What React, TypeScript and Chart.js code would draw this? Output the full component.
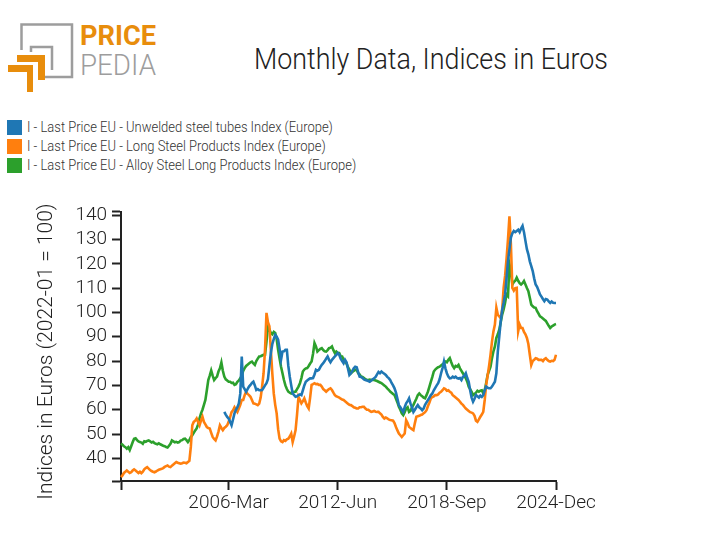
import React, { useEffect, useRef } from 'react';
import { Chart, registerables } from 'chart.js';

Chart.register(...registerables);

// ---------- categories ----------
const START_YEAR = 2000;
const END_YEAR = 2024;
const months: string[] = [];
for (let y = START_YEAR; y <= END_YEAR; y++) {
  for (let m = 1; m <= 12; m++) months.push(`${y}-${m < 10 ? '0' + m : m}`);
}

const xTickMonths = ['2000-01', '2006-03', '2012-06', '2018-09', '2024-12'];
const xTickLabels = ['', '2006-Mar', '2012-Jun', '2018-Sep', '2024-Dec'];

const yTicks = [40, 50, 60, 70, 80, 90, 100, 110, 120, 130, 140];
const yMin = 30.7;
const yMax = 141.4;

// ---------- series values (monthly, 2000-01 .. 2024-12) ----------
const unweldedTubes: (number | null)[] = [
  ...Array(71).fill(null),
  59.1,
  58.0, 57.0, 56.4, 55.0, 53.6, 56.0, 58.5, 60.0, 61.0, 62.6, 66.7, 81.9,
  69.5, 68.5, 67.4, 68.5, 69.5, 70.2, 71.0, 71.5, 70.0, 68.1, 68.5, 68.0,
  68.0, 68.1, 69.0, 70.0, 70.9, 72.5, 78.0, 83.3, 87.0, 89.0, 90.8, 90.0,
  88.8, 85.0, 80.5, 83.9, 84.0, 84.6, 84.6, 78.0, 73.6, 70.0, 66.7, 66.0,
  65.3, 65.5, 66.0, 66.3, 66.0, 68.0, 70.0, 71.5, 72.0, 72.5, 72.9, 72.9,
  73.0, 74.5, 76.4, 76.0, 76.4, 77.5, 78.5, 79.1, 80.0, 81.0, 81.9, 80.5,
  79.5, 80.5, 81.2, 81.9, 82.5, 83.3, 82.6, 81.0, 80.0, 79.1, 80.5, 79.5,
  77.0, 74.3, 75.0, 76.0, 77.0, 77.7, 77.5, 75.5, 73.6, 73.5, 73.0, 72.5,
  72.2, 72.0, 71.8, 71.5, 72.0, 72.5, 72.9, 73.5, 74.5, 75.5, 75.0, 75.7,
  75.2, 74.8, 74.3, 73.5, 73.0, 72.2, 71.0, 70.0, 68.8, 67.0, 64.5, 61.9,
  61.0, 60.0, 59.1, 61.0, 62.6, 63.5, 64.7, 62.5, 61.0, 59.1, 60.0, 61.0,
  61.9, 61.0, 60.5, 59.8, 60.5, 62.0, 63.0, 64.0, 65.0, 66.0, 66.7, 68.0,
  69.0, 70.0, 70.9, 72.5, 75.0, 77.1, 79.8, 77.0, 75.0, 73.6, 72.9, 73.0,
  73.6, 73.2, 73.6, 73.0, 72.8, 73.0, 72.2, 73.5, 74.0, 75.0, 73.0, 71.5,
  68.0, 65.0, 63.3, 64.5, 66.0, 65.5, 65.0, 65.8, 65.3, 66.0, 68.0, 69.5,
  69.0, 68.8, 68.8, 69.5, 70.5, 71.5, 75.0, 83.9, 90.0, 96.3, 101.0, 104.0,
  107.4, 114.0, 121.1, 126.0, 130.8, 132.5, 133.5, 133.0, 133.5, 134.0, 133.0, 134.5,
  135.6, 133.0, 129.4, 126.0, 123.9, 121.0, 119.0, 117.0, 114.0, 111.5, 110.5, 109.0,
  107.4, 106.5, 105.5, 104.6, 105.5, 105.3, 104.5, 103.9, 104.5, 104.0, 103.9, 103.9,
];

const longSteel: number[] = [
  32.3, 33.0, 34.0, 34.5, 35.0, 34.5, 34.0, 34.3, 35.0, 35.5, 35.0, 34.5,
  34.0, 34.5, 33.9, 34.5, 35.5, 36.0, 36.4, 35.8, 35.2, 34.8, 34.5, 34.3,
  34.6, 35.0, 35.3, 35.5, 35.7, 36.0, 36.5, 36.8, 37.1, 36.6, 36.4, 37.0,
  37.5, 38.0, 38.5, 38.2, 38.0, 37.8, 38.0, 38.3, 38.2, 38.0, 38.5, 39.0,
  44.7, 53.6, 55.0, 55.5, 56.4, 55.0, 53.6, 55.5, 57.1, 55.0, 54.0, 52.9,
  52.5, 52.3, 50.5, 48.8, 48.0, 47.4, 49.0, 51.0, 53.6, 52.5, 51.6, 52.5,
  53.0, 53.6, 55.0, 57.0, 59.0, 59.8, 61.0, 60.0, 59.1, 60.5, 62.0, 64.0,
  64.0, 66.0, 67.4, 66.5, 66.0, 65.3, 64.0, 62.6, 62.5, 62.2, 61.9, 62.5,
  65.0, 69.5, 75.0, 84.6, 99.8, 96.0, 94.3, 84.6, 75.0, 66.7, 62.0, 58.5,
  52.0, 48.1, 47.0, 46.7, 47.5, 47.2, 47.8, 48.1, 49.0, 50.2, 46.7, 49.0,
  51.6, 58.0, 65.3, 64.0, 62.6, 63.5, 64.7, 63.0, 61.5, 60.5, 65.0, 70.2,
  70.5, 70.9, 70.5, 70.6, 70.2, 70.2, 69.5, 68.5, 68.0, 67.4, 68.0, 68.5,
  68.8, 68.1, 67.0, 66.0, 65.5, 65.3, 65.0, 64.5, 64.2, 64.0, 63.5, 63.0,
  62.5, 62.0, 61.9, 61.5, 61.0, 60.8, 60.5, 60.5, 61.0, 61.0, 61.2, 61.2,
  60.5, 60.0, 60.0, 59.5, 59.1, 59.3, 59.5, 59.2, 59.1, 59.1, 58.5, 58.0,
  57.0, 56.4, 56.8, 56.5, 56.0, 55.8, 55.7, 55.5, 54.5, 52.9, 51.5, 50.2,
  49.5, 48.8, 49.5, 50.2, 55.7, 54.5, 52.9, 52.5, 52.0, 51.6, 54.5, 57.1,
  57.3, 57.5, 57.8, 58.0, 58.5, 59.0, 59.8, 61.5, 63.0, 64.7, 65.2, 65.5,
  66.0, 66.0, 66.3, 67.0, 67.4, 68.0, 68.8, 68.5, 67.8, 68.0, 67.4, 67.0,
  66.0, 65.5, 65.0, 64.5, 64.0, 63.3, 62.5, 62.0, 61.2, 60.5, 60.0, 59.5,
  59.0, 58.8, 58.5, 57.5, 55.5, 55.0, 56.0, 57.1, 58.0, 59.1, 64.0, 70.2,
  74.0, 78.0, 82.6, 88.0, 92.2, 95.0, 101.9, 99.0, 98.4, 97.7, 101.0, 110.1,
  115.0, 122.0, 130.0, 139.5, 128.0, 110.1, 109.0, 110.0, 110.1, 92.2, 95.0, 93.6,
  93.6, 92.0, 91.0, 89.5, 87.0, 82.6, 78.4, 80.0, 80.5, 81.2, 81.0, 80.5,
  80.5, 80.5, 80.0, 80.8, 81.2, 80.5, 80.0, 79.8, 80.1, 80.0, 80.5, 82.6,
];

const alloyLong: number[] = [
  46.1, 45.6, 45.0, 44.6, 44.0, 44.6, 43.4, 45.0, 46.6, 48.1, 48.3, 47.5,
  47.0, 46.7, 46.5, 46.0, 47.0, 46.8, 47.2, 47.4, 47.0, 46.5, 46.8, 46.3,
  46.0, 45.8, 46.2, 45.8, 45.5, 45.2, 45.0, 44.7, 44.5, 45.2, 46.0, 47.4,
  47.0, 46.6, 46.8, 46.5, 46.7, 47.3, 47.5, 48.0, 48.1, 47.5, 46.7, 47.5,
  48.8, 49.5, 50.5, 51.5, 52.3, 54.0, 56.5, 58.5, 60.0, 62.0, 64.0, 68.0,
  72.2, 74.0, 76.1, 74.0, 72.2, 73.0, 73.6, 75.7, 77.0, 79.4, 76.0, 73.6,
  72.5, 72.0, 71.5, 71.5, 71.0, 71.1, 70.2, 70.5, 71.5, 72.0, 72.9, 74.0,
  76.0, 77.1, 78.0, 78.5, 79.0, 79.5, 79.8, 79.0, 78.4, 80.0, 81.0, 81.9,
  82.0, 82.3, 82.6, 82.6, 88.0, 94.3, 93.0, 91.5, 91.0, 92.0, 91.5, 89.0,
  84.6, 81.0, 77.7, 75.0, 72.2, 70.0, 68.5, 67.4, 67.0, 66.7, 67.0, 67.4,
  67.4, 68.5, 69.5, 70.9, 73.0, 75.7, 76.5, 77.0, 77.1, 78.0, 79.0, 79.8,
  83.0, 87.4, 86.0, 83.9, 84.5, 85.0, 85.3, 84.5, 84.0, 83.9, 84.5, 85.3,
  85.5, 86.0, 84.5, 83.3, 83.9, 83.3, 83.3, 82.0, 81.9, 80.5, 79.8, 79.0,
  77.5, 76.5, 75.0, 75.5, 76.0, 76.4, 76.4, 75.0, 74.5, 73.6, 73.5, 73.0,
  72.5, 72.3, 72.2, 72.4, 72.2, 72.3, 72.2, 72.0, 71.8, 71.5, 71.2, 70.9,
  70.5, 70.0, 69.5, 68.8, 68.2, 67.5, 67.0, 66.5, 66.0, 64.5, 63.0, 61.2,
  60.0, 58.5, 57.8, 59.0, 60.5, 61.0, 59.1, 59.5, 61.0, 62.0, 63.3, 64.5,
  66.0, 66.7, 66.0, 65.5, 65.0, 64.7, 66.0, 67.5, 69.5, 71.5, 73.5, 75.7,
  76.5, 77.0, 77.5, 77.7, 78.2, 78.7, 79.1, 79.8, 79.5, 80.5, 81.2, 79.5,
  78.0, 77.1, 78.0, 77.7, 78.4, 77.0, 76.0, 75.0, 74.0, 72.9, 71.5, 69.5,
  68.5, 67.4, 66.0, 66.5, 67.0, 67.8, 67.4, 67.8, 68.0, 66.7, 68.0, 71.0,
  74.3, 76.0, 77.7, 81.2, 84.0, 86.0, 89.5, 91.0, 92.9, 96.0, 99.1, 101.2,
  104.0, 107.4, 106.7, 119.8, 117.0, 111.5, 112.5, 113.0, 114.3, 113.0, 112.0, 111.5,
  112.0, 112.9, 111.5, 110.0, 108.7, 106.0, 103.2, 102.5, 102.0, 101.9, 100.5, 99.5,
  98.4, 98.0, 97.5, 97.0, 96.5, 95.5, 94.5, 93.6, 94.2, 94.6, 95.0, 95.2,
];

const seriesNames = [
  'I - Last Price EU - Unwelded steel tubes Index (Europe)',
  'I - Last Price EU - Long Steel Products Index (Europe)',
  'I - Last Price EU - Alloy Steel Long Products Index (Europe)',
];
const seriesColors = ['#1f77b4', '#ff7f0e', '#2ca02c'];

const FONT = 'Roboto, "Noto Sans", sans-serif';
const AXIS_COLOR = '#222';

export default function App() {
  const canvasRef = useRef<HTMLCanvasElement | null>(null);

  useEffect(() => {
    if (!canvasRef.current) return;
    const tickFont = { family: FONT, size: 19, weight: '300' as const };
    const chart = new Chart(canvasRef.current, {
      type: 'line',
      data: {
        labels: months,
        datasets: [unweldedTubes, longSteel, alloyLong].map((d, i) => ({
          label: seriesNames[i],
          data: d,
          borderColor: seriesColors[i],
          backgroundColor: seriesColors[i],
          borderWidth: 2.6,
          pointRadius: 0,
          pointHoverRadius: 0,
          tension: 0,
          fill: false,
          spanGaps: false,
        })),
      },
      options: {
        responsive: false,
        animation: false,
        devicePixelRatio: 1,
        layout: { padding: { top: 211.7, right: 156, bottom: 0, left: 0 } },
        plugins: {
          legend: { display: false },
          tooltip: { enabled: false },
          title: { display: false },
        },
        scales: {
          x: {
            type: 'category',
            offset: false,
            border: { display: true, color: AXIS_COLOR, width: 2 },
            grid: {
              display: true,
              drawOnChartArea: false,
              drawTicks: true,
              tickLength: 9,
              tickWidth: 2,
              tickColor: AXIS_COLOR,
              offset: false,
            },
            ticks: {
              autoSkip: false,
              maxRotation: 0,
              minRotation: 0,
              padding: 2,
              color: AXIS_COLOR,
              font: tickFont,
              callback: (v: any) => {
                const i = xTickMonths.indexOf(months[v as number]);
                return i >= 0 ? xTickLabels[i] : '';
              },
            },
            afterBuildTicks: (scale: any) => {
              scale.ticks = xTickMonths.map((m) => ({ value: months.indexOf(m) }));
            },
            afterFit: (scale: any) => {
              scale.height = 555 - 481;
            },
          },
          y: {
            type: 'linear',
            min: yMin,
            max: yMax,
            border: { display: true, color: AXIS_COLOR, width: 2 },
            grid: {
              display: true,
              drawOnChartArea: false,
              drawTicks: true,
              tickLength: 9,
              tickWidth: 2,
              tickColor: AXIS_COLOR,
            },
            ticks: {
              autoSkip: false,
              padding: 5,
              color: AXIS_COLOR,
              font: tickFont,
              callback: (v: any) => (yTicks.includes(v as number) ? String(v) : ''),
            },
            afterBuildTicks: (scale: any) => {
              scale.ticks = [yMin, ...yTicks, yMax].map((v) => ({ value: v }));
            },
            afterFit: (scale: any) => {
              scale.width = 121;
            },
            title: {
              display: true,
              text: 'Indices in Euros (2022-01 = 100)  ',
              color: AXIS_COLOR,
              font: { family: FONT, size: 21, weight: '300' as const },
              padding: { top: 34.4, bottom: 0 },
            },
          },
        },
      },
    });
    return () => chart.destroy();
  }, []);

  return (
    <div
      style={{
        position: 'absolute',
        left: 0,
        top: 0,
        width: 712,
        height: 555,
        background: '#fff',
        overflow: 'hidden',
        fontFamily: FONT,
      }}
    >
      {/* logo */}
      <svg width={170} height={100} style={{ position: 'absolute', left: 0, top: 0 }}>
        <path d="M21.5,50 V24.5 H72 V77 H44" fill="none" stroke="#9d9d9d" strokeWidth={2.5} />
        <path d="M31,52 V47 H52 V70" fill="none" stroke="#9d9d9d" strokeWidth={2.5} />
        <path d="M17,55 H45 V80 H38 V62 H17 Z" fill="#e88d0c" />
        <path d="M8,65 H33 V92 H27 V72 H8 Z" fill="#e88d0c" />
        <text x={80} y={45} fontFamily={FONT} fontWeight={700} fontSize={28} fill="#e88d0c" textLength={76} lengthAdjust="spacingAndGlyphs">PRICE</text>
        <text x={80} y={75} fontFamily={FONT} fontWeight={300} fontSize={29} fill="#9d9d9d" textLength={76} lengthAdjust="spacingAndGlyphs">PEDIA</text>
      </svg>

      {/* title */}
      <div
        style={{
          position: 'absolute',
          left: 431,
          top: 45.3,
          transform: 'translateX(-50%) scaleX(0.926)',
          whiteSpace: 'nowrap',
          fontSize: 29,
          lineHeight: '29px',
          fontWeight: 300,
          color: '#222',
        }}
      >
        Monthly Data, Indices in Euros
      </div>

      {/* legend */}
      {seriesNames.map((name, i) => (
        <div key={name} style={{ position: 'absolute', left: 7, top: 120 + 19 * i, height: 15, whiteSpace: 'nowrap' }}>
          <span
            style={{
              position: 'absolute',
              left: 0,
              top: 0,
              width: 15,
              height: 15,
              background: seriesColors[i],
            }}
          />
          <span
            style={{
              position: 'absolute',
              left: 20,
              top: 0,
              fontSize: 14,
              lineHeight: '15px',
              fontWeight: 300,
              color: '#333',
              transform: 'scaleX(0.927)',
              transformOrigin: 'left center',
            }}
          >
            {name}
          </span>
        </div>
      ))}

      <canvas ref={canvasRef} width={712} height={555} style={{ position: 'absolute', left: 0, top: 0 }} />
    </div>
  );
}
